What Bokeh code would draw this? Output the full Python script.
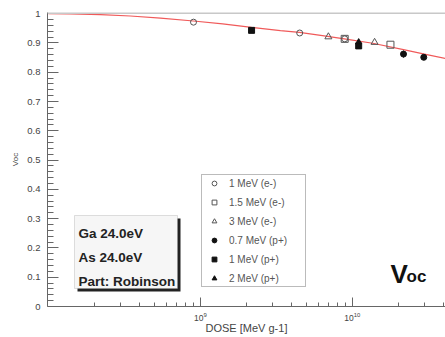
from bokeh.plotting import figure
from bokeh.models import (Range1d, FixedTicker, CustomJSTickFormatter,
                          Legend, LegendItem, Label, BoxAnnotation, Span)
from bokeh.embed import file_html
from bokeh.resources import INLINE

FONT = "Liberation Sans"

# fitted curve
fit_dose = [1.0e8, 1.4e8, 2.2e8, 3.46e8, 5.46e8, 9.0e8, 1.4e9, 2.17e9, 3.36e9,
            4.48e9, 6.35e9, 8.86e9, 1.36e10, 2.17e10, 2.98e10, 4.1e10]
fit_voc = [1.000, 0.999, 0.997, 0.992, 0.985, 0.975, 0.965, 0.953, 0.942,
           0.936, 0.925, 0.914, 0.899, 0.877, 0.862, 0.847]

e1_dose = [9.0e8, 4.5e9, 8.9e9]
e1_voc = [0.971, 0.934, 0.914]
e15_dose = [8.9e9, 1.78e10]
e15_voc = [0.914, 0.894]
e3_dose = [6.95e9, 1.4e10]
e3_voc = [0.921, 0.902]
p07_dose = [2.17e10, 2.95e10]
p07_voc = [0.862, 0.851]
p07_err = [0.012, 0.006]
p1_dose = [2.17e9, 1.1e10]
p1_voc = [0.943, 0.890]
p1_err = [0.0, 0.008]
p2_dose = [1.1e10]
p2_voc = [0.903]

y_major = [0, 0.1, 0.2, 0.3, 0.4, 0.5, 0.6, 0.7, 0.8, 0.9, 1.0]
y_minor = [round(i * 0.02, 2) for i in range(0, 51) if i % 5 != 0]
x_major = [1e9, 1e10]
x_minor = [k * 1e8 for k in range(2, 10)] + [k * 1e9 for k in range(2, 10)] + [2e10, 3e10, 4e10]

p = figure(width=445, height=337, x_axis_type="log",
           x_range=Range1d(0.985e8, 4.1e10), y_range=Range1d(0, 1.004),
           output_backend="svg", toolbar_location=None,
           min_border_left=47, min_border_right=0, min_border_top=12, min_border_bottom=31)
p.outline_line_color = None
p.grid.visible = False
p.background_fill_color = "white"
p.border_fill_color = "white"

axis_col = "#666666"
for ax in (p.xaxis[0], p.yaxis[0]):
    ax.axis_line_color = axis_col
    ax.major_tick_line_color = axis_col
    ax.minor_tick_line_color = axis_col
    ax.major_tick_out = 0
    ax.minor_tick_out = 0
    ax.major_label_text_font = FONT
    ax.major_label_text_color = "#444444"
    ax.axis_label_text_font = FONT
    ax.axis_label_text_color = "#444444"
    ax.axis_label_text_font_style = "normal"

p.xaxis.ticker = FixedTicker(ticks=x_major, minor_ticks=x_minor)
p.xaxis.major_tick_in = 9
p.xaxis.minor_tick_in = 4
p.xaxis.major_label_text_font_size = "8.5px"
p.xaxis.major_label_standoff = 5
p.xaxis.axis_label = "DOSE [MeV g-1]"
p.xaxis.axis_label_text_font_size = "11px"
p.xaxis.axis_label_standoff = -2

p.yaxis.ticker = FixedTicker(ticks=y_major, minor_ticks=y_minor)
p.yaxis.formatter = CustomJSTickFormatter(code="return String(Math.round(tick * 10) / 10);")
p.yaxis.major_tick_in = 11
p.yaxis.minor_tick_in = 6
p.yaxis.major_label_text_font_size = "9.5px"
p.yaxis.major_label_standoff = 7
p.yaxis.axis_label = "Voc"
p.yaxis.axis_label_text_font_size = "8px"
p.yaxis.axis_label_standoff = 4

p.add_layout(Span(location=1.004, dimension="width", line_color="#c8c8c8", line_width=3))

p.line(fit_dose, fit_voc, line_color="#f05a5a", line_width=1.2)

# error bars
p.segment(x0=p07_dose, y0=[v - e for v, e in zip(p07_voc, p07_err)],
          x1=p07_dose, y1=[v + e for v, e in zip(p07_voc, p07_err)], line_color="#222222", line_width=1)
p.segment(x0=p1_dose, y0=[v - e for v, e in zip(p1_voc, p1_err)],
          x1=p1_dose, y1=[v + e for v, e in zip(p1_voc, p1_err)], line_color="#222222", line_width=1)

open_col = "#555555"
r1 = p.scatter(e1_dose, e1_voc, marker="circle", size=6, fill_color=None, line_color=open_col, line_width=1)
r2 = p.scatter(e15_dose, e15_voc, marker="square", size=7, fill_color=None, line_color=open_col, line_width=1)
r3 = p.scatter(e3_dose, e3_voc, marker="triangle", size=7, fill_color=None, line_color=open_col, line_width=1)
r4 = p.scatter(p07_dose, p07_voc, marker="circle", size=6, fill_color="#111111", line_color="#111111")
r5 = p.scatter(p1_dose, p1_voc, marker="square", size=6, fill_color="#111111", line_color="#111111")
r6 = p.scatter(p2_dose, p2_voc, marker="triangle", size=6, fill_color="#111111", line_color="#111111")

legend = Legend(items=[
    LegendItem(label="1 MeV (e-)", renderers=[r1]),
    LegendItem(label="1.5 MeV (e-)", renderers=[r2]),
    LegendItem(label="3 MeV (e-)", renderers=[r3]),
    LegendItem(label="0.7 MeV (p+)", renderers=[r4]),
    LegendItem(label="1 MeV (p+)", renderers=[r5]),
    LegendItem(label="2 MeV (p+)", renderers=[r6]),
], location=(154, 19))
legend.border_line_color = "#777777"
legend.border_line_width = 1
legend.background_fill_color = "white"
legend.background_fill_alpha = 1
legend.label_text_font = FONT
legend.label_text_font_size = "10px"
legend.label_text_color = "#555555"
legend.padding = 2
legend.spacing = 7
legend.margin = 0
legend.glyph_height = 12
legend.glyph_width = 20
legend.label_height = 12
legend.label_width = 74
legend.label_standoff = 5
p.add_layout(legend)

# text box with shadow
p.add_layout(BoxAnnotation(left=30, right=133, bottom=15, top=88,
                           left_units="screen", right_units="screen", bottom_units="screen", top_units="screen",
                           fill_color="#222222", fill_alpha=1, line_color=None))
p.add_layout(BoxAnnotation(left=27, right=130, bottom=18, top=91,
                           left_units="screen", right_units="screen", bottom_units="screen", top_units="screen",
                           fill_color="#f6f6f6", fill_alpha=1, line_color="#999999", line_width=1))
for txt, yy in (("Ga 24.0eV", 73), ("As 24.0eV", 49), ("Part: Robinson", 25)):
    p.add_layout(Label(x=31, y=yy, x_units="screen", y_units="screen", text=txt,
                       text_font=FONT, text_font_size="13.5px", text_font_style="bold",
                       text_color="#222222", text_baseline="alphabetic"))

p.add_layout(Label(x=343, y=33, x_units="screen", y_units="screen", text="V",
                   text_font=FONT, text_font_size="26px", text_font_style="bold",
                   text_color="#111111", text_baseline="alphabetic"))
p.add_layout(Label(x=359, y=30, x_units="screen", y_units="screen", text="oc",
                   text_font=FONT, text_font_size="17px", text_font_style="bold",
                   text_color="#111111", text_baseline="alphabetic"))

open("out.html", "w").write(file_html(p, INLINE))
